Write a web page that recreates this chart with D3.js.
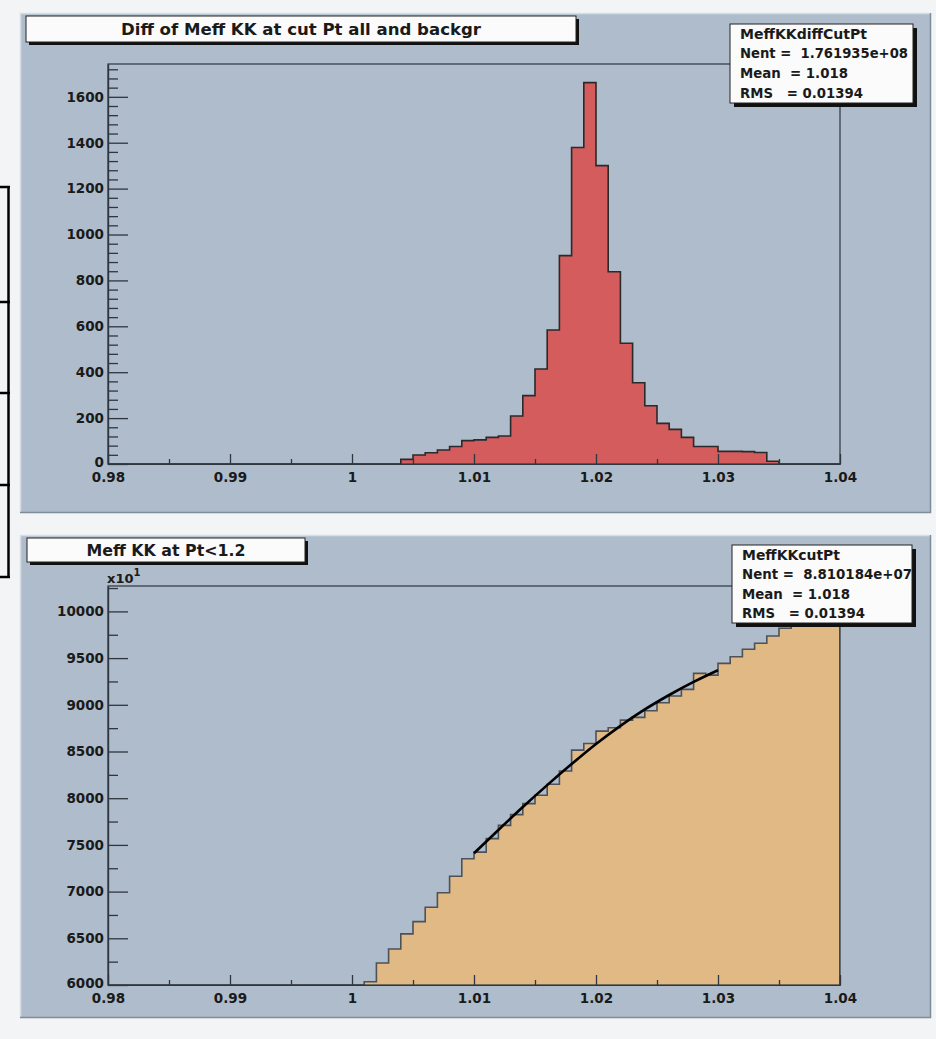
<!DOCTYPE html>
<html>
<head>
<meta charset="utf-8">
<script src="https://cdn.jsdelivr.net/npm/d3@7"></script>
<style>
  html, body { margin: 0; padding: 0; background: #f3f4f6; }
  svg { display: block; }
  text { font-family: "DejaVu Sans", sans-serif; font-weight: bold; fill: #1a1a1a; white-space: pre; }
</style>
</head>
<body>
<svg id="chart" width="936" height="1039"></svg>
<script>
// ---- histogram contents ----
const binWidth = 0.001;

// Upper pad: difference histogram (entries per bin), first bin starts at 1.004
const diffFirstBin = 1.004;
const diffCounts = [20, 39, 49, 61, 76, 102, 105, 116, 122, 209, 298, 414, 584, 908,
  1379, 1662, 1300, 838, 526, 354, 254, 177, 151, 116, 76, 76, 55, 55, 54, 50, 12];

// Lower pad: Meff KK at Pt<1.2 (in units of 10^1), first bin starts at 1.001
const cutFirstBin = 1.001;
const cutCounts = [6035, 6236, 6386, 6547, 6679, 6833, 6987, 7165, 7352, 7423,
  7567, 7709, 7824, 7942, 8031, 8149, 8292, 8515, 8586, 8718,
  8754, 8836, 8865, 8936, 9022, 9094, 9165, 9337, 9318, 9444,
  9515, 9594, 9659, 9737, 9820, 9890, 9960, 10040, 10120];

// Fitted curve over 1.01 - 1.03
const fitX = [1.010, 1.012, 1.014, 1.016, 1.018, 1.020, 1.022, 1.024, 1.026, 1.028, 1.030];
const fitY = [7410, 7660, 7905, 8140, 8365, 8580, 8775, 8950, 9105, 9245, 9370];

// Axis ticks
const xTicks = [0.98, 0.99, 1.00, 1.01, 1.02, 1.03, 1.04];
const xTickLabels = ["0.98", "0.99", "1", "1.01", "1.02", "1.03", "1.04"];
const diffYTicks = [0, 200, 400, 600, 800, 1000, 1200, 1400, 1600];
const cutYTicks = [6000, 6500, 7000, 7500, 8000, 8500, 9000, 9500, 10000];

// Titles and statistics boxes
const diffTitle = "Diff of Meff KK at cut Pt all and backgr";
const diffStats = ["MeffKKdiffCutPt", "Nent =  1.761935e+08", "Mean  = 1.018", "RMS   = 0.01394"];
const cutTitle = "Meff KK at Pt<1.2";
const cutStats = ["MeffKKcutPt", "Nent =  8.810184e+07", "Mean  = 1.018", "RMS   = 0.01394"];

// ---- drawing ----
const svg = d3.select("#chart");
const padFill = "#aebccb";

// thin rules at the left margin
const side = svg.append("g").attr("stroke", "#000").attr("stroke-width", 2.5);
side.append("line").attr("x1", 8.5).attr("x2", 8.5).attr("y1", 186).attr("y2", 578);
[187, 302, 393, 485, 577].forEach(y =>
  side.append("line").attr("x1", 0).attr("x2", 10).attr("y1", y).attr("y2", y));

function drawPad(cfg) {
  const g = svg.append("g");
  // pad background with bevelled edge
  g.append("rect").attr("x", cfg.pad[0]).attr("y", cfg.pad[1])
    .attr("width", cfg.pad[2] - cfg.pad[0]).attr("height", cfg.pad[3] - cfg.pad[1])
    .attr("fill", padFill);
  g.append("path")
    .attr("d", `M${cfg.pad[0] + 0.5},${cfg.pad[3]} V${cfg.pad[1] + 0.5} H${cfg.pad[2]}`)
    .attr("fill", "none").attr("stroke", "#d6dde5").attr("stroke-width", 1.5);
  g.append("path")
    .attr("d", `M${cfg.pad[0]},${cfg.pad[3] - 0.5} H${cfg.pad[2] - 0.5} V${cfg.pad[1]}`)
    .attr("fill", "none").attr("stroke", "#7f8c99").attr("stroke-width", 1.5);

  const x = d3.scaleLinear().domain([0.98, 1.04]).range([cfg.frame[0], cfg.frame[2]]);
  const y = d3.scaleLinear().domain(cfg.yDomain).range([cfg.frame[3], cfg.frame[1]]);

  const clipId = "clip" + cfg.id;
  g.append("clipPath").attr("id", clipId).append("rect")
    .attr("x", cfg.frame[0]).attr("y", cfg.frame[1])
    .attr("width", cfg.frame[2] - cfg.frame[0]).attr("height", cfg.frame[3] - cfg.frame[1]);

  // histogram points (bin low edges), closed with the upper edge of the last bin
  const pts = cfg.counts.map((v, i) => ({ x: cfg.first + i * binWidth, v }));
  pts.push({ x: cfg.first + cfg.counts.length * binWidth, v: cfg.counts[cfg.counts.length - 1] });
  const yMin = cfg.yDomain[0];
  const clampY = v => y(Math.max(v, yMin));

  const hg = g.append("g").attr("clip-path", `url(#${clipId})`);
  hg.append("path").datum(pts)
    .attr("d", d3.area().curve(d3.curveStepAfter)
      .x(d => x(d.x)).y0(y(yMin)).y1(d => clampY(d.v)))
    .attr("fill", cfg.fill);
  const outline = [{ x: 0.98, v: yMin }, { x: cfg.first, v: yMin }].concat(pts)
    .concat([{ x: pts[pts.length - 1].x, v: yMin }, { x: 1.04, v: yMin }]);
  hg.append("path").datum(outline)
    .attr("d", d3.line().curve(d3.curveStepAfter).x(d => x(d.x)).y(d => clampY(d.v)))
    .attr("fill", "none").attr("stroke", cfg.lineColor).attr("stroke-width", 1.6);

  if (cfg.fit) {
    hg.append("path").datum(fitX.map((fx, i) => [fx, fitY[i]]))
      .attr("d", d3.line().curve(d3.curveMonotoneX).x(d => x(d[0])).y(d => y(d[1])))
      .attr("fill", "none").attr("stroke", "#000").attr("stroke-width", 2.6);
  }

  // frame
  g.append("rect").attr("x", cfg.frame[0]).attr("y", cfg.frame[1])
    .attr("width", cfg.frame[2] - cfg.frame[0]).attr("height", cfg.frame[3] - cfg.frame[1])
    .attr("fill", "none").attr("stroke", "#2e3640").attr("stroke-width", 1.2);

  // x axis: major and minor ticks pointing into the frame
  const xAxis = g.append("g").attr("transform", `translate(0,${cfg.frame[3]})`)
    .call(d3.axisBottom(x).tickValues(xTicks).tickSizeInner(-10).tickSizeOuter(0).tickPadding(8)
      .tickFormat((d, i) => xTickLabels[i]));
  const xMinor = g.append("g").attr("transform", `translate(0,${cfg.frame[3]})`)
    .call(d3.axisBottom(x).tickValues(d3.range(6).map(i => 0.985 + i * 0.01))
      .tickSizeInner(-5).tickSizeOuter(0).tickFormat(""));

  // y axis
  const yAxis = g.append("g").attr("transform", `translate(${cfg.frame[0]},0)`)
    .call(d3.axisLeft(y).tickValues(cfg.yTicks).tickSizeInner(-20).tickSizeOuter(0).tickPadding(4)
      .tickFormat(d3.format("d")));
  const yMinor = g.append("g").attr("transform", `translate(${cfg.frame[0]},0)`)
    .call(d3.axisLeft(y).tickValues(cfg.yMinor).tickSizeInner(-10).tickSizeOuter(0).tickFormat(""));

  [xAxis, xMinor, yAxis, yMinor].forEach(a => {
    a.select(".domain").attr("stroke", "#2e3640").attr("stroke-width", 1.2);
    a.selectAll(".tick line").attr("stroke", "#2e3640").attr("stroke-width", 1.3);
  });
  [xAxis, yAxis].forEach(a => a.selectAll(".tick text")
    .attr("font-family", "DejaVu Sans").attr("font-weight", "bold")
    .attr("font-size", 13.5).attr("fill", "#1a1a1a"));
  // the lowest y label sits a touch higher so it clears the first x label
  yAxis.selectAll(".tick text").filter(d => d === cfg.yTicks[0]).attr("dy", "0.2em");

  // title box with shadow
  const tb = cfg.titleBox;
  g.append("rect").attr("x", tb[0] + 3).attr("y", tb[1] + 3).attr("width", tb[2] - tb[0])
    .attr("height", tb[3] - tb[1]).attr("fill", "#111");
  g.append("rect").attr("x", tb[0]).attr("y", tb[1]).attr("width", tb[2] - tb[0])
    .attr("height", tb[3] - tb[1]).attr("fill", "#fbfbfb").attr("stroke", "#222").attr("stroke-width", 1);
  g.append("text").attr("x", (tb[0] + tb[2]) / 2).attr("y", (tb[1] + tb[3]) / 2)
    .attr("dy", "0.36em").attr("text-anchor", "middle").attr("font-size", 16)
    .attr("textLength", cfg.titleWidth).attr("lengthAdjust", "spacingAndGlyphs")
    .text(cfg.title);

  // statistics box with shadow
  const sb = cfg.statsBox;
  g.append("rect").attr("x", sb[0] + 4).attr("y", sb[1] + 4).attr("width", sb[2] - sb[0])
    .attr("height", sb[3] - sb[1]).attr("fill", "#111");
  g.append("rect").attr("x", sb[0]).attr("y", sb[1]).attr("width", sb[2] - sb[0])
    .attr("height", sb[3] - sb[1]).attr("fill", "#fbfbfb").attr("stroke", "#222").attr("stroke-width", 1);
  const lineH = (sb[3] - sb[1]) / cfg.stats.length;
  cfg.stats.forEach((s, i) => {
    g.append("text").attr("x", sb[0] + 10).attr("y", sb[1] + lineH * (i + 0.5))
      .attr("dy", "0.36em").attr("font-size", 13.5).attr("xml:space", "preserve")
      .attr("textLength", cfg.statsWidths[i]).attr("lengthAdjust", "spacingAndGlyphs")
      .text(s);
  });
  return { x, y };
}

drawPad({
  id: "diff",
  pad: [20, 13, 931, 513],
  frame: [108, 64, 840, 464],
  yDomain: [0, 1743],
  yTicks: diffYTicks,
  yMinor: d3.range(0, 44).map(i => i * 40).filter(v => v % 200 !== 0),
  counts: diffCounts, first: diffFirstBin,
  fill: "#d45c5c", lineColor: "#2a2a2a",
  title: diffTitle, titleBox: [26, 16, 576, 42], titleWidth: 360,
  stats: diffStats, statsBox: [730, 24, 913, 103], statsWidths: [127, 168, 108, 123]
});

drawPad({
  id: "cut",
  pad: [20, 535, 931, 1018],
  frame: [108, 586, 840, 985],
  yDomain: [6000, 10272],
  yTicks: cutYTicks,
  yMinor: [6250, 6750, 7250, 7750, 8250, 8750, 9250, 9750, 10250],
  counts: cutCounts, first: cutFirstBin,
  fill: "#e1b984", lineColor: "#4e5257",
  fit: true,
  title: cutTitle, titleBox: [27, 538, 305, 562], titleWidth: 159,
  stats: cutStats, statsBox: [732, 545, 912, 623], statsWidths: [98, 170, 108, 123]
});

// exponent label of the lower y axis
const ex = svg.append("text").attr("x", 107).attr("y", 583).attr("font-size", 13);
ex.append("tspan").text("x10");
ex.append("tspan").attr("dy", -7).attr("font-size", 10).text("1");
</script>
</body>
</html>
